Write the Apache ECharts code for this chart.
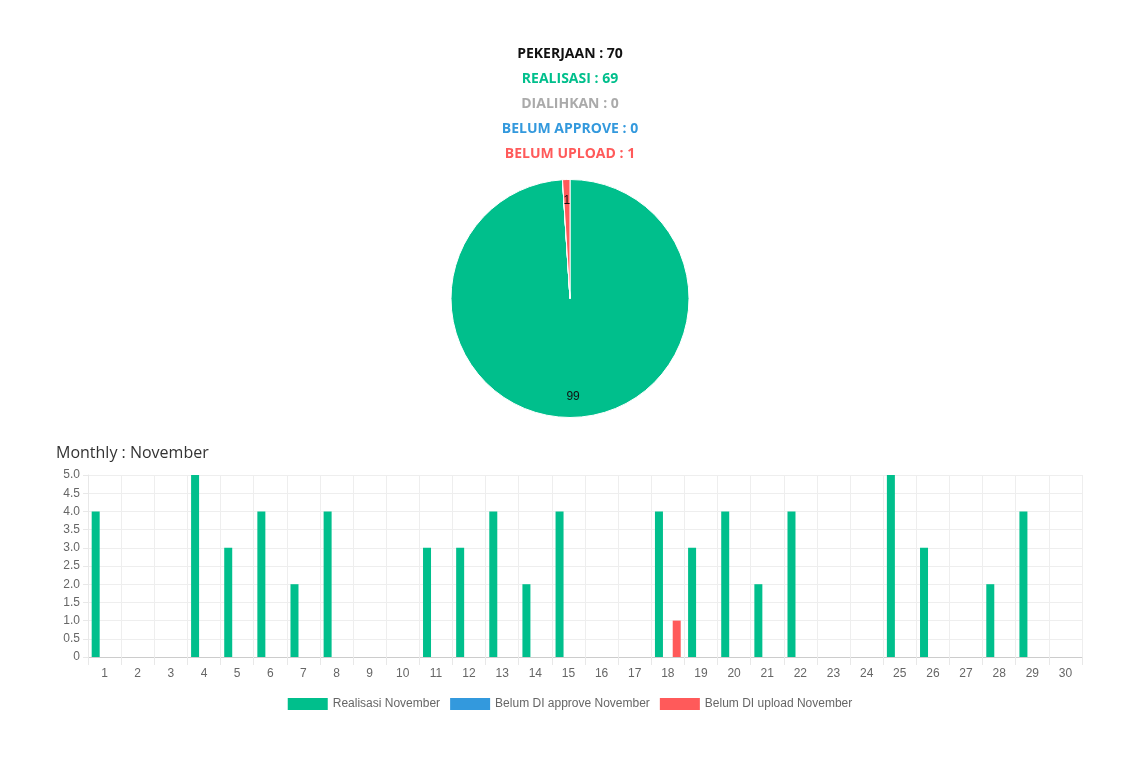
<!DOCTYPE html>
<html>
<head>
<meta charset="utf-8">
<script src="https://cdn.jsdelivr.net/npm/echarts@6/dist/echarts.min.js"></script>
<style>
html,body{margin:0;padding:0;background:#fff;}
#chart{width:1140px;height:763px;}
</style>
</head>
<body>
<div id="chart"></div>
<script>
// Summary
var summaryLabels = ['PEKERJAAN', 'REALISASI', 'DIALIHKAN', 'BELUM APPROVE', 'BELUM UPLOAD'];
var summaryValues = [70, 69, 0, 0, 1];
var summaryColors = ['#111111', '#00bf8c', '#aaaaaa', '#3399dd', '#ff5a5a'];

// Pie (percent values as shown on the slices)
var pieNames = ['Realisasi', 'Dialihkan', 'Belum Approve', 'Belum Upload'];
var pieValues = [99, 0, 0, 1];
var pieColors = ['#00bf8c', '#aaaaaa', '#3399dd', '#ff5a5a'];

// Monthly bars
var monthTitle = 'Monthly : November';
var days = ['1','2','3','4','5','6','7','8','9','10','11','12','13','14','15','16','17','18','19','20','21','22','23','24','25','26','27','28','29','30'];
var realisasi = [4,0,0,5,3,4,2,4,0,0,3,3,4,2,4,0,0,4,3,4,2,4,0,0,5,3,0,2,4,0];
var belumApprove = [0,0,0,0,0,0,0,0,0,0,0,0,0,0,0,0,0,0,0,0,0,0,0,0,0,0,0,0,0,0];
var belumUpload = [0,0,0,0,0,0,0,0,0,0,0,0,0,0,0,0,0,1,0,0,0,0,0,0,0,0,0,0,0,0];
var seriesNames = ['Realisasi November', 'Belum DI approve November', 'Belum DI upload November'];
var barColors = ['#00bf8c', '#3399dd', '#ff5a5a'];

var titleFont = '"Open Sans", "DejaVu Sans", sans-serif';
var axisFont = '"Liberation Sans", Arial, sans-serif';

var titles = summaryLabels.map(function (l, i) {
  return {
    text: l + ' : ' + summaryValues[i],
    left: 'center',
    top: 46.5 + i * 24.8,
    padding: 0,
    textStyle: { fontFamily: titleFont, fontSize: 14, fontWeight: 'bold', color: summaryColors[i], lineHeight: 16 }
  };
});
titles.push({
  text: monthTitle,
  left: 56,
  top: 443,
  padding: 0,
  textStyle: { fontFamily: titleFont, fontSize: 16, fontWeight: 'normal', color: '#333', lineHeight: 20 }
});

var pieData = pieNames.map(function (n, i) {
  return { name: n, value: pieValues[i], itemStyle: { color: pieColors[i] } };
});

var chart = echarts.init(document.getElementById('chart'), null, { renderer: 'canvas' });
chart.setOption({
  animation: false,
  title: titles,
  legend: {
    data: seriesNames,
    top: 693,
    left: 'center',
    itemWidth: 40,
    itemHeight: 12,
    itemGap: 10,
    icon: 'rect',
    textStyle: { fontFamily: axisFont, fontSize: 12, color: '#666' }
  },
  grid: { left: 88, right: 58, top: 475, bottom: 106, containLabel: false },
  xAxis: {
    type: 'category',
    data: days,
    axisLine: { lineStyle: { color: '#cccccc' } },
    axisTick: { show: true, length: 8, interval: 0, lineStyle: { color: '#e8e8e8' } },
    splitLine: { show: true, interval: 0, lineStyle: { color: '#eeeeee' } },
    axisLabel: { interval: 0, margin: 11, fontFamily: axisFont, fontSize: 12, color: '#666' }
  },
  yAxis: {
    type: 'value',
    min: 0,
    max: 5,
    interval: 0.5,
    axisLine: { show: true, lineStyle: { color: '#e8e8e8' } },
    axisTick: { show: true, length: 5, lineStyle: { color: '#e8e8e8' } },
    splitLine: { show: true, lineStyle: { color: '#eeeeee' } },
    axisLabel: {
      margin: 8, fontFamily: axisFont, fontSize: 12, color: '#666',
      formatter: function (v) { return v === 0 ? '0' : v.toFixed(1); }
    }
  },
  series: [
    { type: 'bar', name: seriesNames[0], data: realisasi, itemStyle: { color: barColors[0] }, barWidth: 8, barGap: '11%' },
    { type: 'bar', name: seriesNames[1], data: belumApprove, itemStyle: { color: barColors[1] }, barWidth: 8, barGap: '11%' },
    { type: 'bar', name: seriesNames[2], data: belumUpload, itemStyle: { color: barColors[2] }, barWidth: 8, barGap: '11%' },
    {
      type: 'pie',
      name: 'pie',
      center: [570, 298.5],
      radius: [0, 119],
      startAngle: 90,
      clockwise: true,
      silent: true,
      data: pieData,
      itemStyle: { borderColor: '#ffffff', borderWidth: 1 },
      label: { show: false },
      labelLine: { show: false }
    },
    {
      type: 'pie',
      name: 'pieLabels',
      center: [570, 298.5],
      radius: [71, 119],
      startAngle: 90,
      clockwise: true,
      silent: true,
      data: pieData.map(function (d) { return { name: d.name, value: d.value, itemStyle: { color: 'rgba(0,0,0,0)', borderWidth: 0 } }; }),
      label: {
        show: true,
        position: 'inside',
        fontFamily: axisFont,
        fontSize: 12,
        color: '#111',
        formatter: function (p) { return p.value === 0 ? '' : String(p.value); }
      },
      labelLine: { show: false }
    }
  ]
});
</script>
</body>
</html>
